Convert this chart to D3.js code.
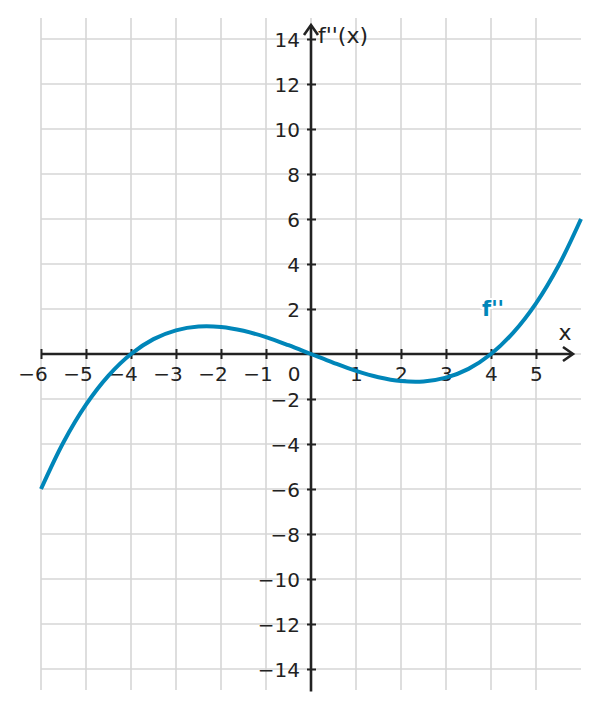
<!DOCTYPE html>
<html>
<head>
<meta charset="utf-8">
<script src="https://cdn.jsdelivr.net/npm/d3@7"></script>
<style>
  body { margin: 0; background: #fff; }
  svg { display: block; font-family: "DejaVu Sans", sans-serif; }
</style>
</head>
<body>
<script>
// values
const xs = [-6, -5.5, -5, -4.5, -4, -3.5, -3, -2.5, -2, -1.5, -1, -0.5, 0,
            0.5, 1, 1.5, 2, 2.5, 3, 3.5, 4, 4.5, 5, 5.5, 6]
const ys = [-6, -3.92, -2.25, -0.96, 0, 0.66, 1.05, 1.22, 1.2, 1.03, 0.75, 0.39, 0,
            -0.39, -0.75, -1.03, -1.2, -1.22, -1.05, -0.66, 0, 0.96, 2.25, 3.92, 6]
const xTicks = [-6, -5, -4, -3, -2, -1, 1, 2, 3, 4, 5]
const yTicks = [-14, -12, -10, -8, -6, -4, -2, 2, 4, 6, 8, 10, 12, 14]
const xGrid = [-6, -5, -4, -3, -2, -1, 0, 1, 2, 3, 4, 5]
const yGrid = [-14, -12, -10, -8, -6, -4, -2, 0, 2, 4, 6, 8, 10, 12, 14]

const W = 598, H = 709
const blue = "#0086b9", ink = "#222"
const tickFont = "20px", nameFont = "22px"

let x = d3.scaleLinear().domain([-6, 6]).range([41, 581])
let y = d3.scaleLinear().domain([-15, 15]).range([691.5, 16.5])

let svg = d3.select("body").append("svg")
    .attr("width", W)
    .attr("height", H)

// grid
svg.append("g").selectAll("line")
    .data(xGrid)
    .enter().append("line")
    .attr("x1", d => x(d)).attr("x2", d => x(d))
    .attr("y1", y(14.93)).attr("y2", y(-14.93))
    .attr("stroke", "#d6d6d6").attr("stroke-width", 1.6)

svg.append("g").selectAll("line")
    .data(yGrid)
    .enter().append("line")
    .attr("y1", d => y(d)).attr("y2", d => y(d))
    .attr("x1", x(-6)).attr("x2", x(6))
    .attr("stroke", "#d6d6d6").attr("stroke-width", 1.6)

// x axis
let xAxis = svg.append("g")
    .attr("transform", "translate(0," + y(0) + ")")
    .call(d3.axisBottom(x).tickValues(xTicks).tickSize(5).tickFormat(d => d < 0 ? "\u2212" + (-d) : d))
xAxis.select(".domain").remove()
xAxis.selectAll(".tick line")
    .attr("y1", -5).attr("y2", 5)
    .attr("stroke", ink).attr("stroke-width", 2)
xAxis.selectAll(".tick text")
    .attr("y", 0).attr("dy", 0)
    .attr("transform", "translate(0,27)")
    .attr("x", 6.3)
    .attr("text-anchor", "end")
    .attr("fill", ink)
    .style("font-size", tickFont)
    .style("font-family", "DejaVu Sans")

// y axis
let yAxis = svg.append("g")
    .attr("transform", "translate(" + x(0) + ",0)")
    .call(d3.axisLeft(y).tickValues(yTicks).tickSize(5).tickFormat(d => d < 0 ? "\u2212" + (-d) : d))
yAxis.select(".domain").remove()
yAxis.selectAll(".tick line")
    .attr("x1", -4).attr("x2", 5)
    .attr("stroke", ink).attr("stroke-width", 2)
yAxis.selectAll(".tick text")
    .attr("x", -11)
    .attr("dy", "0.36em")
    .attr("text-anchor", "end")
    .attr("fill", ink)
    .style("font-size", tickFont)
    .style("font-family", "DejaVu Sans")

// axis lines with arrows
svg.append("line")
    .attr("x1", x(-6)).attr("x2", 572)
    .attr("y1", y(0)).attr("y2", y(0))
    .attr("stroke", ink).attr("stroke-width", 2.6)
svg.append("path")
    .attr("d", "M" + 563 + "," + (y(0) - 7) + " L573," + y(0) + " L" + 563 + "," + (y(0) + 7))
    .attr("fill", "none").attr("stroke", ink).attr("stroke-width", 2.6)

svg.append("line")
    .attr("x1", x(0)).attr("x2", x(0))
    .attr("y1", y(-15)).attr("y2", 26)
    .attr("stroke", ink).attr("stroke-width", 2.6)
svg.append("path")
    .attr("d", "M" + (x(0) - 7) + ",35 L" + x(0) + ",25 L" + (x(0) + 7) + ",35")
    .attr("fill", "none").attr("stroke", ink).attr("stroke-width", 2.6)

svg.append("text")
    .attr("x", x(0) - 17).attr("y", y(0) + 27)
    .attr("text-anchor", "middle")
    .attr("fill", ink).style("font-size", tickFont)
    .text("0")

svg.append("text")
    .attr("x", 318).attr("y", 43)
    .attr("fill", ink).style("font-size", nameFont)
    .text("f''(x)")

svg.append("text")
    .attr("x", 565).attr("y", 340)
    .attr("text-anchor", "middle")
    .attr("fill", ink).style("font-size", nameFont)
    .text("x")

// curve
let line = d3.line()
    .x((d, i) => x(xs[i]))
    .y(d => y(d))
    .curve(d3.curveCatmullRom)

svg.append("path")
    .datum(ys)
    .attr("d", line)
    .attr("fill", "none")
    .attr("stroke", blue)
    .attr("stroke-width", 4)

svg.append("text")
    .attr("x", 482).attr("y", 316)
    .attr("fill", blue)
    .attr("stroke", "#fff").attr("stroke-width", 4)
    .attr("paint-order", "stroke")
    .style("font-size", "21px").style("font-weight", "bold")
    .text("f''")
</script>
</body>
</html>
